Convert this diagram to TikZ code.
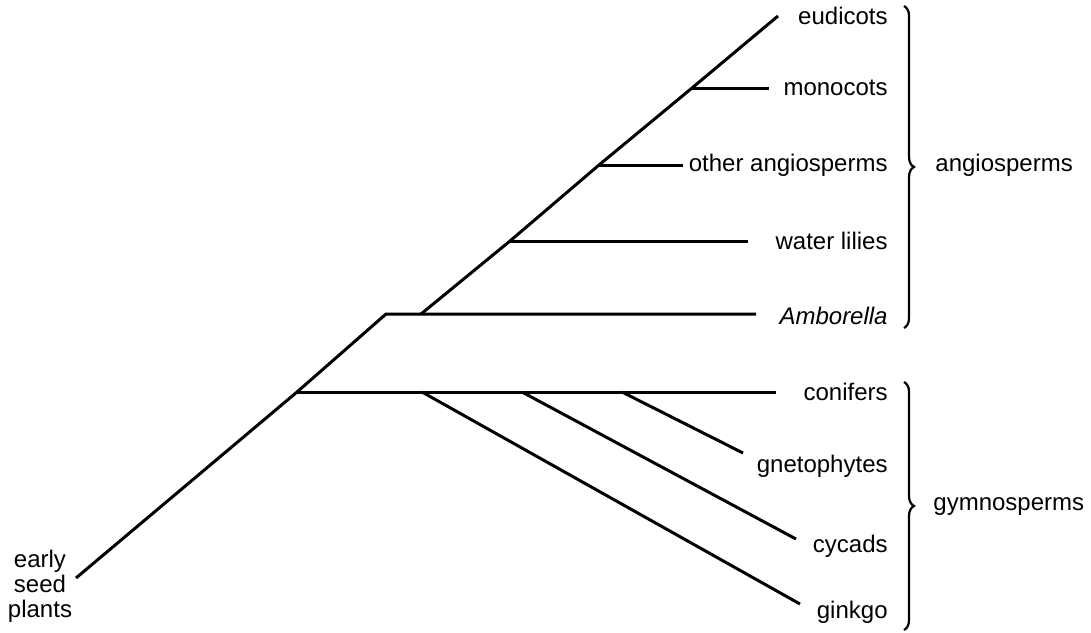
\documentclass[tikz,border=0pt]{standalone}
\usepackage{fontspec}
\setmainfont{Liberation Sans}
\usetikzlibrary{decorations.pathreplacing}

\begin{document}
\begin{tikzpicture}[x=0.5pt, y=-0.5pt,
      branch/.style={line width=1.5pt, line cap=butt},
      taxon/.style={anchor=east, inner sep=0pt, font=\fontsize{12}{14}\selectfont},
      cladebrace/.style={decoration={brace, amplitude=5pt}, decorate, line width=1.1pt},
      cladelabel/.style={anchor=west, inner sep=0pt, font=\fontsize{12}{14}\selectfont}]

      \useasboundingbox (0,0) rectangle (1091,632);

      % Branch points
      \coordinate (seed)    at (76,578);
      \coordinate (gymbase) at (297,392);
      \coordinate (angbase) at (386,314);
      \coordinate (angstem) at (421,314);
      \coordinate (lilybr)  at (510,241);
      \coordinate (otherbr) at (599,165);
      \coordinate (monobr)  at (692,88);
      \coordinate (eudiend) at (778,16);
      \coordinate (ginkbr)  at (422,392);
      \coordinate (cycabr)  at (522,392);
      \coordinate (gnetbr)  at (622,392);

      % Tip ends
      \coordinate (monoend)  at (769,88);
      \coordinate (otherend) at (683,165);
      \coordinate (lilyend)  at (748,241);
      \coordinate (ambend)   at (756,314);
      \coordinate (conend)   at (776,392);
      \coordinate (gnetend)  at (743,453);
      \coordinate (cycaend)  at (796,539);
      \coordinate (ginkend)  at (800,604);

      % Taxa
      \node[taxon] (eudicots) at (888,16)  {eudicots};
      \node[taxon] (monocots) at (888,88)  {monocots};
      \node[taxon] (otherang) at (888,165) {other angiosperms};
      \node[taxon] (lilies)   at (888,241) {water lilies};
      \node[taxon] (amborella) at (888,316) {\itshape Amborella};
      \node[taxon] (conifers) at (888,392) {conifers};
      \node[taxon] (gneto)    at (888,466) {gnetophytes};
      \node[taxon] (cycads)   at (888,546) {cycads};
      \node[taxon] (ginkgo)   at (888,612) {ginkgo};
      \node[align=center, font=\fontsize{12}{12.5}\selectfont] (early) at (40,586) {early\\seed\\plants};

      % --- Stem ---
      \draw[branch] (seed) -- (gymbase) -- (angbase) -- (ambend);

      % --- Angiosperms ---
      \draw[branch] (angstem) -- (lilybr) -- (otherbr) -- (monobr) -- (eudiend);
      \draw[branch] (lilybr) -- (lilyend);
      \draw[branch] (otherbr) -- (otherend);
      \draw[branch] (monobr) -- (monoend);

      % --- Gymnosperms ---
      \draw[branch] (gymbase) -- (conend);
      \draw[branch] (ginkbr) -- (ginkend);
      \draw[branch] (cycabr) -- (cycaend);
      \draw[branch] (gnetbr) -- (gnetend);

      % --- Clades ---
      \draw[cladebrace] (904,6) -- (904,328);
      \node[cladelabel] (angio) at (935,165) {angiosperms};
      \draw[cladebrace] (904,382) -- (904,630);
      \node[cladelabel] (gymno) at (933,507) {gymnosperms};

    \end{tikzpicture}
\end{document}
